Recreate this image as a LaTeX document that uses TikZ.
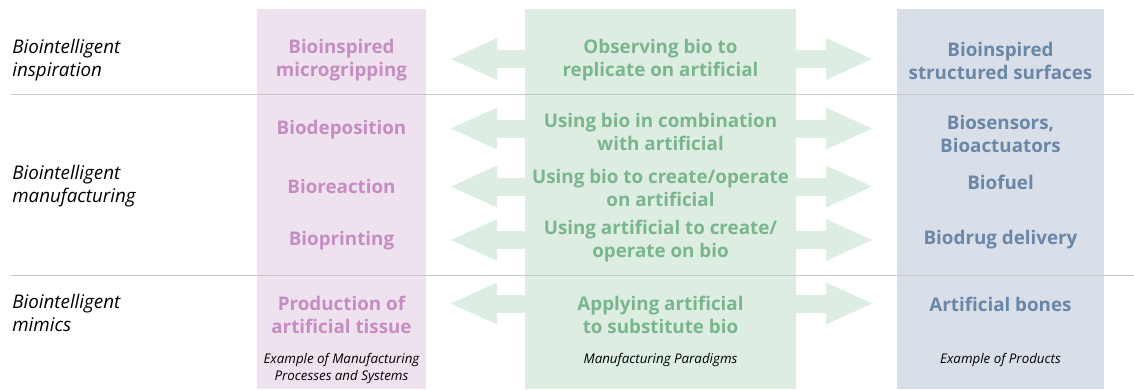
\documentclass[tikz,border=0pt]{standalone}
\usepackage{fontspec}
\setmainfont{Open Sans}
\usetikzlibrary{arrows.meta}
\definecolor{pinkbox}{HTML}{EFE2EF}
\definecolor{pinktext}{HTML}{C68DC2}
\definecolor{greenbox}{HTML}{DDEDE2}
\definecolor{greentext}{HTML}{7AB68D}
\definecolor{bluebox}{HTML}{D9DFE8}
\definecolor{bluetext}{HTML}{6A87A8}
\definecolor{rulegrey}{HTML}{C8C8C8}
\tikzset{
    rowlabel/.style={anchor=west, align=left, inner sep=0pt, font=\fontsize{14.1}{17.25}\selectfont\itshape},
    item/.style={align=center, inner sep=0pt, font=\fontsize{14.1}{17.25}\selectfont\bfseries},
    caption/.style={align=center, inner sep=0pt, font=\fontsize{10}{12.75}\selectfont\itshape},
    bigarrow/.style={draw=greenbox, line width=13.5pt, -{Triangle[length=34.5pt,width=31.5pt,line width=0pt]}},
}
\begin{document}
\begin{tikzpicture}[x=0.75pt,y=-0.75pt]
            \useasboundingbox (0,0) rectangle (1134,389);
            \fill[pinkbox] (257,9) rectangle (426,389);
            \fill[greenbox] (525,9) rectangle (796,389);
            \fill[bluebox] (897,9) rectangle (1104,389);
            \draw[rulegrey, line width=0.75pt] (11,94) -- (1134,94);
            \draw[rulegrey, line width=0.75pt] (11,275.5) -- (1134,275.5);

            \node[rowlabel] (insp) at (12,60.5) {Biointelligent\\inspiration};
            \node[rowlabel] (manu) at (12,186.5) {Biointelligent\\manufacturing};
            \node[rowlabel] (mimi) at (12,312.5) {Biointelligent\\mimics};

            \node[item, pinktext] (micro) at (341.5,60.5) {Bioinspired\\microgripping};
            \node[item, pinktext] (depo) at (341.5,129.5) {Biodeposition};
            \node[item, pinktext] (react) at (341.5,186.5) {Bioreaction};
            \node[item, pinktext] (print) at (341.5,240.5) {Bioprinting};
            \node[item, pinktext] (tissue) at (341.5,315) {Production of\\artificial tissue};

            \node[item, greentext] (observ) at (660.5,60.5) {Observing bio to\\replicate on artificial};
            \node[item, greentext] (combi) at (660.5,131.5) {Using bio in combination\\with artificial};
            \node[item, greentext] (bioop) at (660.5,188) {Using bio to create/operate\\on artificial};
            \node[item, greentext] (artop) at (660.5,241.5) {Using artificial to create/\\operate on bio};
            \node[item, greentext] (subst) at (660.5,315) {Applying artificial\\to substitute bio};

            \node[item, bluetext] (surf) at (1000.5,60.5) {Bioinspired\\structured surfaces};
            \node[item, bluetext] (sens) at (1000.5,133.5) {Biosensors,\\Bioactuators};
            \node[item, bluetext] (fuel) at (1000.5,182.5) {Biofuel};
            \node[item, bluetext] (drug) at (1000.5,239.5) {Biodrug delivery};
            \node[item, bluetext] (bones) at (1000.5,304.5) {Artificial bones};

            \node[caption] (capproc) at (341.5,368) {Example of Manufacturing\\Processes and Systems};
            \node[caption] (capparad) at (660.5,360) {Manufacturing Paradigms};
            \node[caption] (capprod) at (1000.5,360) {Example of Products};

            % arrow ends
            \coordinate (gl1) at (530,59);    \coordinate (pl1) at (451,59);
            \coordinate (gl2) at (530,128.5); \coordinate (pl2) at (451,128.5);
            \coordinate (gl3) at (530,186.5); \coordinate (pl3) at (451,186.5);
            \coordinate (gl4) at (530,240);   \coordinate (pl4) at (451,240);
            \coordinate (gl5) at (530,303.5); \coordinate (pl5) at (451,303.5);
            \coordinate (gr1) at (790,59);    \coordinate (br1) at (872,59);
            \coordinate (gr2) at (790,128.5); \coordinate (br2) at (872,128.5);
            \coordinate (gr3) at (790,186.5); \coordinate (br3) at (872,186.5);
            \coordinate (gr4) at (790,240);   \coordinate (br4) at (872,240);
            \coordinate (gr5) at (790,303.5); \coordinate (br5) at (872,303.5);

            \draw[bigarrow] (gl1) to (pl1); \draw[bigarrow] (gl2) to (pl2); \draw[bigarrow] (gl3) to (pl3);
            \draw[bigarrow] (gl4) to (pl4); \draw[bigarrow] (gl5) to (pl5);
            \draw[bigarrow] (gr1) to (br1); \draw[bigarrow] (gr2) to (br2); \draw[bigarrow] (gr3) to (br3);
            \draw[bigarrow] (gr4) to (br4); \draw[bigarrow] (gr5) to (br5);
\end{tikzpicture}
\end{document}
